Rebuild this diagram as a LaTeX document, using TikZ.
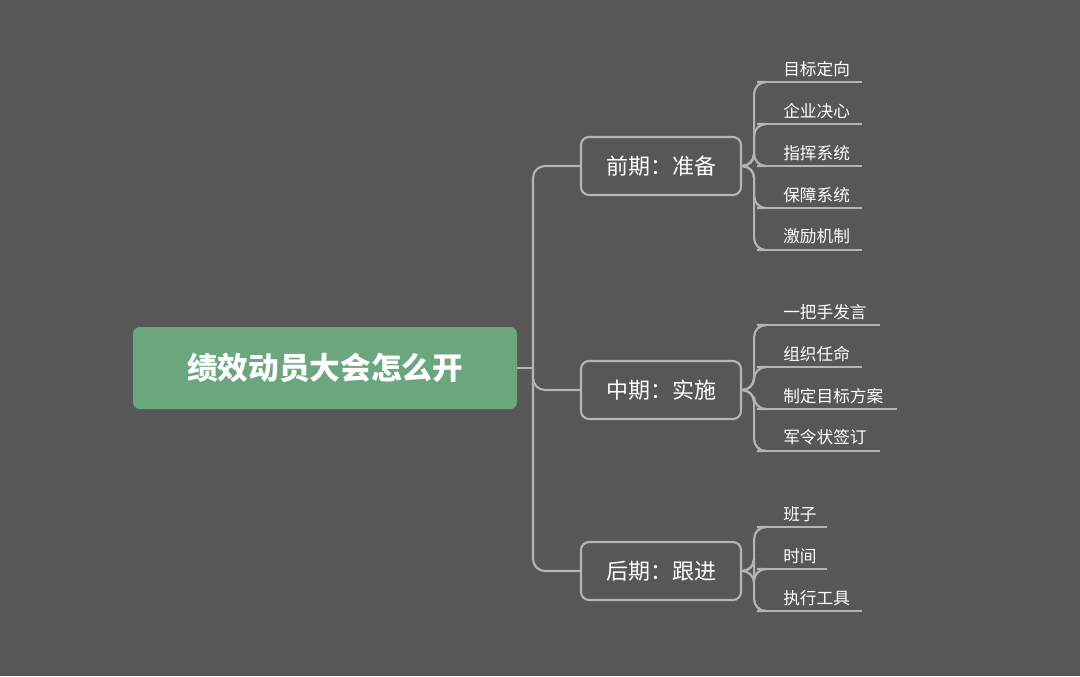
\documentclass[tikz,border=0pt]{standalone}
\usepackage{fontspec}
\setmainfont{Noto Sans CJK SC}
\definecolor{bg}{HTML}{575856}
\definecolor{rootgreen}{HTML}{6BA67E}
\definecolor{linegray}{HTML}{B4B4B4}
\tikzset{
  link/.style={draw=linegray, line width=1.6pt, rounded corners=9},
  rootbox/.style={fill=rootgreen, rounded corners=5, minimum width=288pt, minimum height=61.5pt, text=white, font=\bfseries\fontsize{23}{23}\selectfont},
  phasebox/.style={draw=linegray, line width=1.6pt, rounded corners=6, minimum width=120pt, minimum height=43.5pt, text=white, font=\fontsize{16.5}{16.5}\selectfont},
  leaf/.style={anchor=south west, inner xsep=0pt, inner ysep=4pt, text=white, font=\fontsize{12.5}{12.5}\selectfont}
}
\begin{document}
\begin{tikzpicture}[x=0.75pt,y=-0.75pt]
\fill[bg] (0,0) rectangle (1080,676);
\useasboundingbox (0,0) rectangle (1080,676);

\node[rootbox] (root) at (325,368) {绩效动员大会怎么开};
\node[phasebox] (pre) at (661,166) {前期：准备};
\node[phasebox] (mid) at (661,390) {中期：实施};
\node[phasebox] (post) at (661,571) {后期：跟进};

\coordinate (trunk) at (533,368);
\draw[link] (root.east) -- (trunk);
\foreach \b in {pre,mid,post}
  \draw[link] (trunk) |- (\b.west);

% leaves: name/y of underline/end x/text
\foreach \b/\n/\y/\e/\t in {
  pre/a1/82/862/目标定向, pre/a2/124/862/企业决心, pre/a3/166/862/指挥系统,
  pre/a4/208/862/保障系统, pre/a5/250/862/激励机制,
  mid/b1/325/880/一把手发言, mid/b2/367/862/组织任命, mid/b3/409/897/制定目标方案,
  mid/b4/451/880/军令状签订,
  post/c1/527/827/班子, post/c2/569/827/时间, post/c3/611/862/执行工具}{
  \node[leaf] (\n) at (783,\y) {\t};
  \coordinate (\n s) at (757,\y);
  \draw[link] (\b.east) -- ++(12,0) |- (\n s);
  \draw[link,rounded corners=0] (\n s) -- (\e,\y);
}
\end{tikzpicture}
\end{document}
